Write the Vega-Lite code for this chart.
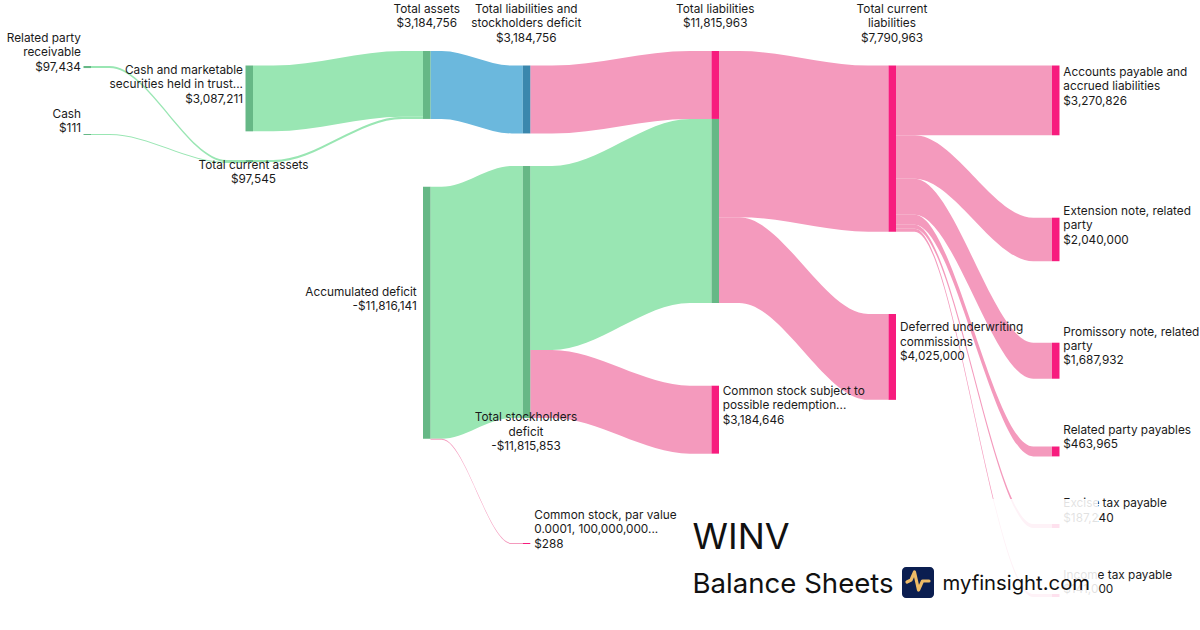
{
  "$schema": "https://vega.github.io/schema/vega-lite/v6.json",
  "width": 1200,
  "height": 630,
  "autosize": {"type": "fit", "contains": "padding"},
  "padding": 0,
  "background": "white",
  "config": {"view": {"stroke": null}},
  "datasets": {
    "links": [
      {"link": "Related party receivable → Total current assets", "kind": "asset", "x": 0.91, "top": 3.094, "bottom": 3.191},
      {"link": "Related party receivable → Total current assets", "kind": "asset", "x": 1.095, "top": 3.094, "bottom": 3.191},
      {"link": "Related party receivable → Total current assets", "kind": "asset", "x": 2.27, "top": 7.501, "bottom": 7.598},
      {"link": "Related party receivable → Total current assets", "kind": "asset", "x": 2.455, "top": 7.501, "bottom": 7.598},
      {"link": "Cash → Total current assets", "kind": "asset", "x": 0.91, "top": 6.282, "bottom": 6.329},
      {"link": "Cash → Total current assets", "kind": "asset", "x": 1.095, "top": 6.282, "bottom": 6.329},
      {"link": "Cash → Total current assets", "kind": "asset", "x": 2.27, "top": 7.598, "bottom": 7.645},
      {"link": "Cash → Total current assets", "kind": "asset", "x": 2.455, "top": 7.598, "bottom": 7.645},
      {"link": "Total current assets → Total assets", "kind": "asset", "x": 2.53, "top": 7.501, "bottom": 7.599},
      {"link": "Total current assets → Total assets", "kind": "asset", "x": 2.734, "top": 7.501, "bottom": 7.599},
      {"link": "Total current assets → Total assets", "kind": "asset", "x": 4.026, "top": 5.478, "bottom": 5.576},
      {"link": "Total current assets → Total assets", "kind": "asset", "x": 4.23, "top": 5.478, "bottom": 5.576},
      {"link": "Cash and marketable securities → Total assets", "kind": "asset", "x": 2.53, "top": 3.071, "bottom": 6.158},
      {"link": "Cash and marketable securities → Total assets", "kind": "asset", "x": 2.734, "top": 3.071, "bottom": 6.158},
      {"link": "Cash and marketable securities → Total assets", "kind": "asset", "x": 4.026, "top": 2.391, "bottom": 5.478},
      {"link": "Cash and marketable securities → Total assets", "kind": "asset", "x": 4.23, "top": 2.391, "bottom": 5.478},
      {"link": "Total assets → Total liabilities and stockholders deficit", "kind": "total", "x": 4.305, "top": 2.391, "bottom": 5.576},
      {"link": "Total assets → Total liabilities and stockholders deficit", "kind": "total", "x": 4.416, "top": 2.391, "bottom": 5.576},
      {"link": "Total assets → Total liabilities and stockholders deficit", "kind": "total", "x": 5.117, "top": 3.071, "bottom": 6.256},
      {"link": "Total assets → Total liabilities and stockholders deficit", "kind": "total", "x": 5.228, "top": 3.071, "bottom": 6.256},
      {"link": "Accumulated deficit → Total stockholders deficit", "kind": "asset", "x": 4.305, "top": 8.758, "bottom": 20.574},
      {"link": "Accumulated deficit → Total stockholders deficit", "kind": "asset", "x": 4.416, "top": 8.758, "bottom": 20.574},
      {"link": "Accumulated deficit → Total stockholders deficit", "kind": "asset", "x": 5.117, "top": 7.782, "bottom": 19.598},
      {"link": "Accumulated deficit → Total stockholders deficit", "kind": "asset", "x": 5.228, "top": 7.782, "bottom": 19.598},
      {"link": "Accumulated deficit → Common stock", "kind": "liability", "x": 4.305, "top": 20.574, "bottom": 20.621},
      {"link": "Accumulated deficit → Common stock", "kind": "liability", "x": 4.416, "top": 20.574, "bottom": 20.621},
      {"link": "Accumulated deficit → Common stock", "kind": "liability", "x": 5.117, "top": 25.457, "bottom": 25.504},
      {"link": "Accumulated deficit → Common stock", "kind": "liability", "x": 5.228, "top": 25.457, "bottom": 25.504},
      {"link": "Total liabilities and stockholders deficit → Total liabilities", "kind": "liability", "x": 5.303, "top": 3.071, "bottom": 6.256},
      {"link": "Total liabilities and stockholders deficit → Total liabilities", "kind": "liability", "x": 5.52, "top": 3.071, "bottom": 6.256},
      {"link": "Total liabilities and stockholders deficit → Total liabilities", "kind": "liability", "x": 6.898, "top": 2.391, "bottom": 5.576},
      {"link": "Total liabilities and stockholders deficit → Total liabilities", "kind": "liability", "x": 7.115, "top": 2.391, "bottom": 5.576},
      {"link": "Total stockholders deficit → Total liabilities", "kind": "asset", "x": 5.303, "top": 7.782, "bottom": 16.413},
      {"link": "Total stockholders deficit → Total liabilities", "kind": "asset", "x": 5.52, "top": 7.782, "bottom": 16.413},
      {"link": "Total stockholders deficit → Total liabilities", "kind": "asset", "x": 6.898, "top": 5.576, "bottom": 14.207},
      {"link": "Total stockholders deficit → Total liabilities", "kind": "asset", "x": 7.115, "top": 5.576, "bottom": 14.207},
      {"link": "Total stockholders deficit → Common stock subject to redemption", "kind": "liability", "x": 5.303, "top": 16.413, "bottom": 19.598},
      {"link": "Total stockholders deficit → Common stock subject to redemption", "kind": "liability", "x": 5.52, "top": 16.413, "bottom": 19.598},
      {"link": "Total stockholders deficit → Common stock subject to redemption", "kind": "liability", "x": 6.898, "top": 18.083, "bottom": 21.268},
      {"link": "Total stockholders deficit → Common stock subject to redemption", "kind": "liability", "x": 7.115, "top": 18.083, "bottom": 21.268},
      {"link": "Total liabilities → Total current liabilities", "kind": "liability", "x": 7.19, "top": 2.391, "bottom": 10.182},
      {"link": "Total liabilities → Total current liabilities", "kind": "liability", "x": 7.393, "top": 2.391, "bottom": 10.182},
      {"link": "Total liabilities → Total current liabilities", "kind": "liability", "x": 8.682, "top": 3.071, "bottom": 10.862},
      {"link": "Total liabilities → Total current liabilities", "kind": "liability", "x": 8.885, "top": 3.071, "bottom": 10.862},
      {"link": "Total liabilities → Deferred underwriting commissions", "kind": "liability", "x": 7.19, "top": 10.182, "bottom": 14.207},
      {"link": "Total liabilities → Deferred underwriting commissions", "kind": "liability", "x": 7.393, "top": 10.182, "bottom": 14.207},
      {"link": "Total liabilities → Deferred underwriting commissions", "kind": "liability", "x": 8.682, "top": 14.721, "bottom": 18.746},
      {"link": "Total liabilities → Deferred underwriting commissions", "kind": "liability", "x": 8.885, "top": 14.721, "bottom": 18.746},
      {"link": "Total current liabilities → Accounts payable", "kind": "liability", "x": 8.96, "top": 3.071, "bottom": 6.342},
      {"link": "Total current liabilities → Accounts payable", "kind": "liability", "x": 9.147, "top": 3.071, "bottom": 6.342},
      {"link": "Total current liabilities → Accounts payable", "kind": "liability", "x": 10.333, "top": 3.071, "bottom": 6.342},
      {"link": "Total current liabilities → Accounts payable", "kind": "liability", "x": 10.52, "top": 3.071, "bottom": 6.342},
      {"link": "Total current liabilities → Extension note", "kind": "liability", "x": 8.96, "top": 6.342, "bottom": 8.382},
      {"link": "Total current liabilities → Extension note", "kind": "liability", "x": 9.147, "top": 6.342, "bottom": 8.382},
      {"link": "Total current liabilities → Extension note", "kind": "liability", "x": 10.333, "top": 10.206, "bottom": 12.246},
      {"link": "Total current liabilities → Extension note", "kind": "liability", "x": 10.52, "top": 10.206, "bottom": 12.246},
      {"link": "Total current liabilities → Promissory note", "kind": "liability", "x": 8.96, "top": 8.382, "bottom": 10.07},
      {"link": "Total current liabilities → Promissory note", "kind": "liability", "x": 9.147, "top": 8.382, "bottom": 10.07},
      {"link": "Total current liabilities → Promissory note", "kind": "liability", "x": 10.333, "top": 16.067, "bottom": 17.755},
      {"link": "Total current liabilities → Promissory note", "kind": "liability", "x": 10.52, "top": 16.067, "bottom": 17.755},
      {"link": "Total current liabilities → Related party payables", "kind": "liability", "x": 8.96, "top": 10.07, "bottom": 10.534},
      {"link": "Total current liabilities → Related party payables", "kind": "liability", "x": 9.147, "top": 10.07, "bottom": 10.534},
      {"link": "Total current liabilities → Related party payables", "kind": "liability", "x": 10.333, "top": 20.933, "bottom": 21.397},
      {"link": "Total current liabilities → Related party payables", "kind": "liability", "x": 10.52, "top": 20.933, "bottom": 21.397},
      {"link": "Total current liabilities → Excise tax payable", "kind": "liability", "x": 8.96, "top": 10.534, "bottom": 10.721},
      {"link": "Total current liabilities → Excise tax payable", "kind": "liability", "x": 9.147, "top": 10.534, "bottom": 10.721},
      {"link": "Total current liabilities → Excise tax payable", "kind": "liability", "x": 10.333, "top": 24.566, "bottom": 24.753},
      {"link": "Total current liabilities → Excise tax payable", "kind": "liability", "x": 10.52, "top": 24.566, "bottom": 24.753},
      {"link": "Total current liabilities → Income tax payable", "kind": "liability", "x": 8.96, "top": 10.721, "bottom": 10.862},
      {"link": "Total current liabilities → Income tax payable", "kind": "liability", "x": 9.147, "top": 10.721, "bottom": 10.862},
      {"link": "Total current liabilities → Income tax payable", "kind": "liability", "x": 10.333, "top": 27.848, "bottom": 27.989},
      {"link": "Total current liabilities → Income tax payable", "kind": "liability", "x": 10.52, "top": 27.848, "bottom": 27.989}
    ],
    "nodes": [
      {"node": "Related party receivable", "kind": "asset", "value": 97434, "x0": 0.835, "x1": 0.91, "y0": 3.094, "y1": 3.191},
      {"node": "Cash", "kind": "asset", "value": 111, "x0": 0.835, "x1": 0.91, "y0": 6.282, "y1": 6.329},
      {"node": "Cash and marketable securities held in trust", "kind": "asset", "value": 3087211, "x0": 2.455, "x1": 2.53, "y0": 3.071, "y1": 6.158},
      {"node": "Total current assets", "kind": "asset", "value": 97545, "x0": 2.455, "x1": 2.53, "y0": 7.501, "y1": 7.599},
      {"node": "Total assets", "kind": "asset", "value": 3184756, "x0": 4.23, "x1": 4.305, "y0": 2.391, "y1": 5.576},
      {"node": "Accumulated deficit", "kind": "asset", "value": -11816141, "x0": 4.23, "x1": 4.305, "y0": 8.758, "y1": 20.574},
      {"node": "Total liabilities and stockholders deficit", "kind": "total", "value": 3184756, "x0": 5.228, "x1": 5.303, "y0": 3.071, "y1": 6.256},
      {"node": "Total stockholders deficit", "kind": "asset", "value": -11815853, "x0": 5.228, "x1": 5.303, "y0": 7.782, "y1": 19.598},
      {"node": "Common stock, par value", "kind": "liability", "value": 288, "x0": 5.228, "x1": 5.303, "y0": 25.457, "y1": 25.504},
      {"node": "Total liabilities", "kind": "liability", "value": 3184756, "x0": 7.115, "x1": 7.19, "y0": 2.391, "y1": 5.576},
      {"node": "Total liabilities", "kind": "asset", "value": 8631207, "x0": 7.115, "x1": 7.19, "y0": 5.576, "y1": 14.207},
      {"node": "Common stock subject to possible redemption", "kind": "liability", "value": 3184646, "x0": 7.115, "x1": 7.19, "y0": 18.083, "y1": 21.268},
      {"node": "Total current liabilities", "kind": "liability", "value": 7790963, "x0": 8.885, "x1": 8.96, "y0": 3.071, "y1": 10.862},
      {"node": "Deferred underwriting commissions", "kind": "liability", "value": 4025000, "x0": 8.885, "x1": 8.96, "y0": 14.721, "y1": 18.746},
      {"node": "Accounts payable and accrued liabilities", "kind": "liability", "value": 3270826, "x0": 10.52, "x1": 10.595, "y0": 3.071, "y1": 6.342},
      {"node": "Extension note, related party", "kind": "liability", "value": 2040000, "x0": 10.52, "x1": 10.595, "y0": 10.206, "y1": 12.246},
      {"node": "Promissory note, related party", "kind": "liability", "value": 1687932, "x0": 10.52, "x1": 10.595, "y0": 16.067, "y1": 17.755},
      {"node": "Related party payables", "kind": "liability", "value": 463965, "x0": 10.52, "x1": 10.595, "y0": 20.933, "y1": 21.397},
      {"node": "Excise tax payable", "kind": "liability", "value": 187240, "x0": 10.52, "x1": 10.595, "y0": 24.566, "y1": 24.753},
      {"node": "Income tax payable", "kind": "liability", "value": 141000, "x0": 10.52, "x1": 10.595, "y0": 27.848, "y1": 27.989}
    ],
    "labels": [
      {"label": "Related party\nreceivable\n$97,434", "align": "right", "lx": 0.81, "ly": 1.547},
      {"label": "Cash\n$111", "align": "right", "lx": 0.81, "ly": 5.11},
      {"label": "Cash and marketable\nsecurities held in trust...\n$3,087,211", "align": "right", "lx": 2.43, "ly": 3.047},
      {"label": "Total current assets\n$97,545", "align": "center", "lx": 2.535, "ly": 7.501},
      {"label": "Total assets\n$3,184,756", "align": "center", "lx": 4.267, "ly": 0.175},
      {"label": "Accumulated deficit\n-$11,816,141", "align": "right", "lx": 4.167, "ly": 13.455},
      {"label": "Total liabilities and\nstockholders deficit\n$3,184,756", "align": "center", "lx": 5.263, "ly": 0.175},
      {"label": "Total stockholders\ndeficit\n-$11,815,853", "align": "center", "lx": 5.26, "ly": 19.33},
      {"label": "Common stock, par value\n0.0001, 100,000,000...\n$288", "align": "left", "lx": 5.343, "ly": 23.91},
      {"label": "Total liabilities\n$11,815,963", "align": "center", "lx": 7.152, "ly": 0.175},
      {"label": "Common stock subject to\npossible redemption...\n$3,184,646", "align": "left", "lx": 7.227, "ly": 18.097},
      {"label": "Total current\nliabilities\n$7,790,963", "align": "center", "lx": 8.92, "ly": 0.175},
      {"label": "Deferred underwriting\ncommissions\n$4,025,000", "align": "left", "lx": 9.0, "ly": 15.11},
      {"label": "Accounts payable and\naccrued liabilities\n$3,270,826", "align": "left", "lx": 10.633, "ly": 3.141},
      {"label": "Extension note, related\nparty\n$2,040,000", "align": "left", "lx": 10.633, "ly": 9.644},
      {"label": "Promissory note, related\nparty\n$1,687,932", "align": "left", "lx": 10.633, "ly": 15.316},
      {"label": "Related party payables\n$463,965", "align": "left", "lx": 10.633, "ly": 19.925},
      {"label": "Excise tax payable\n$187,240", "align": "left", "lx": 10.633, "ly": 23.361},
      {"label": "Income tax payable\n$141,000", "align": "left", "lx": 10.633, "ly": 26.723}
    ],
    "panel": [
      {"part": "backdrop", "x0": 6.78, "x1": 10.98, "y0": 23.394, "y1": 29.536},
      {"part": "logo", "x0": 9.02, "x1": 9.34, "y0": 26.582, "y1": 28.036}
    ],
    "titles": [
      {"role": "ticker", "text": "WINV", "tx": 6.925, "ty": 25.738},
      {"role": "subtitle", "text": "Balance Sheets", "tx": 6.925, "ty": 27.801},
      {"role": "brand", "text": "myfinsight.com", "tx": 9.425, "ty": 27.66}
    ],
    "pulse": [
      {"px": 9.07, "py": 27.286},
      {"px": 9.11, "py": 27.192},
      {"px": 9.145, "py": 26.817},
      {"px": 9.185, "py": 27.661},
      {"px": 9.225, "py": 27.239},
      {"px": 9.29, "py": 27.239}
    ]
  },
  "layer": [
    {
      "data": {"name": "links"},
      "mark": {"type": "area", "interpolate": "monotone"},
      "encoding": {
        "x": {"field": "x", "type": "quantitative", "scale": {"domain": [0, 12], "nice": false, "zero": false}, "axis": null},
        "y": {"field": "top", "type": "quantitative", "stack": null, "scale": {"domain": [0, 29.536], "reverse": true, "nice": false, "zero": false}, "axis": null},
        "y2": {"field": "bottom"},
        "detail": {"field": "link", "type": "nominal"},
        "color": {"field": "kind", "type": "nominal", "scale": {"domain": ["asset", "total", "liability"], "range": ["#99e6b3", "#6bb8dd", "#f49abd"]}, "legend": null}
      }
    },
    {
      "data": {"name": "nodes"},
      "mark": {"type": "rect"},
      "encoding": {
        "x": {"field": "x0", "type": "quantitative", "scale": {"domain": [0, 12], "nice": false, "zero": false}, "axis": null},
        "x2": {"field": "x1"},
        "y": {"field": "y0", "type": "quantitative", "scale": {"domain": [0, 29.536], "reverse": true, "nice": false, "zero": false}, "axis": null},
        "y2": {"field": "y1"},
        "fill": {"field": "kind", "type": "nominal", "scale": {"domain": ["asset", "total", "liability"], "range": ["#66b886", "#3a87ad", "#f71c7e"]}, "legend": null}
      }
    },
    {
      "data": {"name": "labels"},
      "transform": [{"filter": "datum.align === 'right'"}],
      "mark": {"type": "text", "align": "right", "baseline": "top", "font": "Inter", "fontSize": 11.8, "lineBreak": "\n", "lineHeight": 14.4, "color": "#1a1a1a"},
      "encoding": {
        "x": {"field": "lx", "type": "quantitative", "scale": {"domain": [0, 12], "nice": false, "zero": false}, "axis": null},
        "y": {"field": "ly", "type": "quantitative", "scale": {"domain": [0, 29.536], "reverse": true, "nice": false, "zero": false}, "axis": null},
        "text": {"field": "label", "type": "nominal"}
      }
    },
    {
      "data": {"name": "labels"},
      "transform": [{"filter": "datum.align === 'center'"}],
      "mark": {"type": "text", "align": "center", "baseline": "top", "font": "Inter", "fontSize": 11.8, "lineBreak": "\n", "lineHeight": 14.4, "color": "#1a1a1a"},
      "encoding": {
        "x": {"field": "lx", "type": "quantitative", "scale": {"domain": [0, 12], "nice": false, "zero": false}, "axis": null},
        "y": {"field": "ly", "type": "quantitative", "scale": {"domain": [0, 29.536], "reverse": true, "nice": false, "zero": false}, "axis": null},
        "text": {"field": "label", "type": "nominal"}
      }
    },
    {
      "data": {"name": "labels"},
      "transform": [{"filter": "datum.align === 'left'"}],
      "mark": {"type": "text", "align": "left", "baseline": "top", "font": "Inter", "fontSize": 11.8, "lineBreak": "\n", "lineHeight": 14.4, "color": "#1a1a1a"},
      "encoding": {
        "x": {"field": "lx", "type": "quantitative", "scale": {"domain": [0, 12], "nice": false, "zero": false}, "axis": null},
        "y": {"field": "ly", "type": "quantitative", "scale": {"domain": [0, 29.536], "reverse": true, "nice": false, "zero": false}, "axis": null},
        "text": {"field": "label", "type": "nominal"}
      }
    },
    {
      "data": {"name": "panel"},
      "transform": [{"filter": "datum.part === 'backdrop'"}],
      "mark": {"type": "rect", "fill": "white", "opacity": 0.87},
      "encoding": {
        "x": {"field": "x0", "type": "quantitative", "scale": {"domain": [0, 12], "nice": false, "zero": false}, "axis": null},
        "x2": {"field": "x1"},
        "y": {"field": "y0", "type": "quantitative", "scale": {"domain": [0, 29.536], "reverse": true, "nice": false, "zero": false}, "axis": null},
        "y2": {"field": "y1"}
      }
    },
    {
      "data": {"name": "panel"},
      "transform": [{"filter": "datum.part === 'logo'"}],
      "mark": {"type": "rect", "fill": "#0b1e50", "cornerRadius": 4},
      "encoding": {
        "x": {"field": "x0", "type": "quantitative", "scale": {"domain": [0, 12], "nice": false, "zero": false}, "axis": null},
        "x2": {"field": "x1"},
        "y": {"field": "y0", "type": "quantitative", "scale": {"domain": [0, 29.536], "reverse": true, "nice": false, "zero": false}, "axis": null},
        "y2": {"field": "y1"}
      }
    },
    {
      "data": {"name": "pulse"},
      "mark": {"type": "line", "stroke": "#eebb66", "strokeWidth": 3.2, "strokeCap": "round", "strokeJoin": "round"},
      "encoding": {
        "x": {"field": "px", "type": "quantitative", "scale": {"domain": [0, 12], "nice": false, "zero": false}, "axis": null},
        "y": {"field": "py", "type": "quantitative", "scale": {"domain": [0, 29.536], "reverse": true, "nice": false, "zero": false}, "axis": null}
      }
    },
    {
      "data": {"name": "titles"},
      "transform": [{"filter": "datum.role === 'ticker'"}],
      "mark": {"type": "text", "align": "left", "baseline": "alphabetic", "font": "Inter", "fontSize": 36, "color": "#111111"},
      "encoding": {
        "x": {"field": "tx", "type": "quantitative", "scale": {"domain": [0, 12], "nice": false, "zero": false}, "axis": null},
        "y": {"field": "ty", "type": "quantitative", "scale": {"domain": [0, 29.536], "reverse": true, "nice": false, "zero": false}, "axis": null},
        "text": {"field": "text", "type": "nominal"}
      }
    },
    {
      "data": {"name": "titles"},
      "transform": [{"filter": "datum.role === 'subtitle'"}],
      "mark": {"type": "text", "align": "left", "baseline": "alphabetic", "font": "Inter", "fontSize": 27.6, "color": "#111111"},
      "encoding": {
        "x": {"field": "tx", "type": "quantitative", "scale": {"domain": [0, 12], "nice": false, "zero": false}, "axis": null},
        "y": {"field": "ty", "type": "quantitative", "scale": {"domain": [0, 29.536], "reverse": true, "nice": false, "zero": false}, "axis": null},
        "text": {"field": "text", "type": "nominal"}
      }
    },
    {
      "data": {"name": "titles"},
      "transform": [{"filter": "datum.role === 'brand'"}],
      "mark": {"type": "text", "align": "left", "baseline": "alphabetic", "font": "Inter", "fontSize": 20.3, "color": "#111111"},
      "encoding": {
        "x": {"field": "tx", "type": "quantitative", "scale": {"domain": [0, 12], "nice": false, "zero": false}, "axis": null},
        "y": {"field": "ty", "type": "quantitative", "scale": {"domain": [0, 29.536], "reverse": true, "nice": false, "zero": false}, "axis": null},
        "text": {"field": "text", "type": "nominal"}
      }
    }
  ],
  "resolve": {"scale": {"color": "independent", "fill": "independent"}}
}
